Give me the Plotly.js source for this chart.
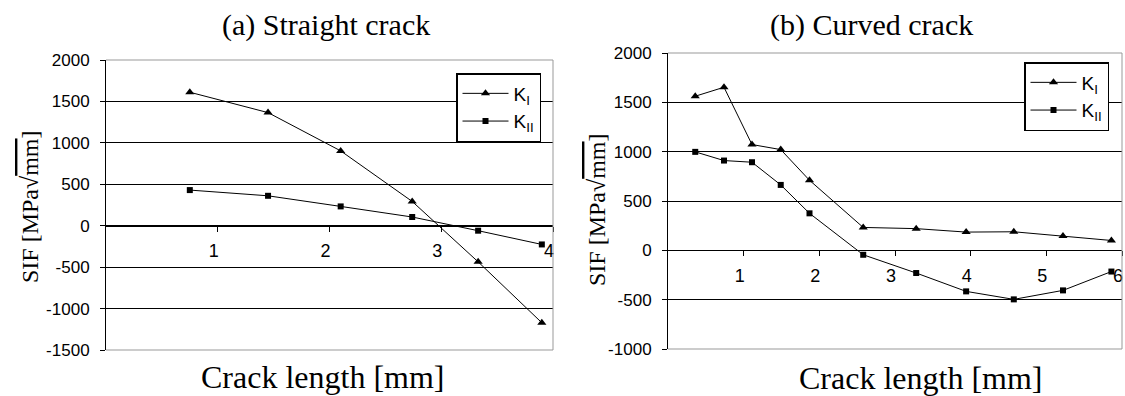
<!DOCTYPE html>
<html><head><meta charset="utf-8">
<script src="https://cdn.plot.ly/plotly-3.0.1.min.js"></script>
<style>
body{margin:0;background:#fff;}
#a{position:absolute;left:0;top:0;width:562px;height:396px;}
#b{position:absolute;left:562px;top:0;width:563px;height:396px;}
</style>
</head><body>
<div id="a"></div><div id="b"></div>
<script>
// ---- data ----
const xStraight   = [0.75, 1.45, 2.10, 2.74, 3.33, 3.90];
const kIStraight  = [1611, 1365, 903, 293, -436, -1171];
const kIIStraight = [430, 361, 233, 105, -60, -226];

const xCurved   = [0.36, 0.74, 1.11, 1.49, 1.87, 2.58, 3.28, 3.94, 4.57, 5.22, 5.86];
const kICurved  = [1562, 1653, 1072, 1021, 710, 232, 220, 185, 188, 145, 100];
const kIICurved = [998, 910, 893, 663, 375, -45, -230, -416, -497, -406, -215];

const seriesNames = ['K<sub>I</sub>', 'K<sub>II</sub>'];
const xTicksStraight = [1, 2, 3, 4];
const xTicksCurved = [1, 2, 3, 4, 5, 6];
const yTicksStraight = [-1500, -1000, -500, 0, 500, 1000, 1500, 2000];
const yTickTextStraight = ['-1500', '-1000', '-500', '0', '500', '1000', '1500', '2000'];
const yTicksCurved = [-1000, -500, 0, 500, 1000, 1500, 2000];
const yTickTextCurved = ['-1000', '-500', '0', '500', '1000', '1500', '2000'];
const panelTitles = ['(a) Straight crack', '(b) Curved crack'];
const xTitle = 'Crack length [mm]';
const yTitle = 'SIF [MPa\u221A<span style="text-decoration:overline">mm</span>]';

const SERIF = '"Liberation Serif", "Times New Roman", serif';
const SANS = '"Liberation Sans", Arial, sans-serif';

function makeFig(div, x, kI, kII, xr, xticks, yr, yticks, yticktext, m, tpos, legPos, ytPos, xtPos) {
  const traces = [
    {x: x, y: kI, name: seriesNames[0], type: 'scatter', mode: 'lines+markers',
     line: {color: '#000', width: 1}, marker: {symbol: 'triangle-up', size: 8, color: '#000'}},
    {x: x, y: kII, name: seriesNames[1], type: 'scatter', mode: 'lines+markers',
     line: {color: '#000', width: 1}, marker: {symbol: 'square', size: 6, color: '#000'}}
  ];
  const zeroPos = (0 - yr[0]) / (yr[1] - yr[0]);
  const layout = {
    width: m.w, height: 396,
    margin: {l: m.l, r: m.r, t: m.t, b: m.b, pad: 0},
    paper_bgcolor: '#fff', plot_bgcolor: '#fff',
    showlegend: true,
    font: {family: SANS, color: '#000'},
    xaxis: {range: xr, tickvals: xticks, anchor: 'free', position: zeroPos,
      showline: true, linecolor: '#000', linewidth: 1, ticks: 'outside', ticklen: 5,
      tickcolor: '#000', showgrid: false, zeroline: false, ticklabelstandoff: 4,
      ticklabelshift: -4, ticklabeloverflow: 'allow',
      tickfont: {family: SANS, size: 18, color: '#000'}},
    yaxis: {range: yr, tickvals: yticks, ticktext: yticktext, showline: true, linecolor: '#000', linewidth: 1,
      ticks: 'outside', ticklen: 5, tickcolor: '#000', showgrid: true, gridcolor: '#000',
      gridwidth: 1, zeroline: false, ticklabelstandoff: 7,
      tickfont: {family: SANS, size: 17, color: '#000'}},
    legend: {x: legPos[0], y: legPos[1], xanchor: 'left', yanchor: 'top',
      bgcolor: '#fff', bordercolor: '#000', borderwidth: 1.5,
      itemwidth: 46,
      font: {family: SANS, size: 19, color: '#000'}},
    shapes: [
      {type: 'line', xref: 'paper', yref: 'paper', x0: 0, x1: 1, y0: 1, y1: 1,
       line: {color: '#999', width: 1}, layer: 'above'},
      {type: 'line', xref: 'paper', yref: 'paper', x0: 1, x1: 1, y0: 0, y1: 1,
       line: {color: '#999', width: 1}, layer: 'above'},
      {type: 'line', xref: 'paper', yref: 'paper', x0: 0, x1: 1, y0: 0, y1: 0,
       line: {color: '#999', width: 1}, layer: 'above'}
    ],
    annotations: [
      {text: tpos.text, xref: 'paper', yref: 'paper', x: tpos.x, y: tpos.y,
       xanchor: 'center', yanchor: 'middle', showarrow: false,
       font: {family: SERIF, size: 30, color: '#000'}},
      {text: xTitle, xref: 'paper', yref: 'paper', x: xtPos[0], y: xtPos[1],
       xanchor: 'center', yanchor: 'middle', showarrow: false,
       font: {family: SERIF, size: 32, color: '#000'}},
      {text: yTitle, xref: 'paper', yref: 'paper', x: ytPos[0], y: ytPos[1],
       xanchor: 'center', yanchor: 'middle', showarrow: false, textangle: -90,
       font: {family: SERIF, size: 24, color: '#000'}}
    ]
  };
  Plotly.newPlot(div, traces, layout, {displayModeBar: false, staticPlot: true});
}

// panel (a): plot area x 106..553, y 60..350
makeFig('a', xStraight, kIStraight, kIIStraight, [0, 4], xTicksStraight, [-1500, 2000],
  yTicksStraight, yTickTextStraight,
  {w: 562, l: 106, r: 9, t: 60, b: 46},
  {text: panelTitles[0], x: (326 - 106) / 447, y: (350 - 25) / 290},
  [(456 - 106) / 447, (350 - 73) / 290],
  [(30 - 106) / 447, (350 - 207) / 290],
  [(322 - 106) / 447, (350 - 377) / 290]);

// panel (b): plot area x 668..1122 (div offset 562), y 53..349
makeFig('b', xCurved, kICurved, kIICurved, [0, 6], xTicksCurved, [-1000, 2000],
  yTicksCurved, yTickTextCurved,
  {w: 563, l: 106, r: 3, t: 53, b: 47},
  {text: panelTitles[1], x: (309 - 106) / 454, y: (349 - 25) / 296},
  [(1024 - 668) / 454, (349 - 62) / 296],
  [(35 - 106) / 454, (349 - 210) / 296],
  [(920 - 668) / 454, (349 - 378) / 296]);
</script>
</body></html>
